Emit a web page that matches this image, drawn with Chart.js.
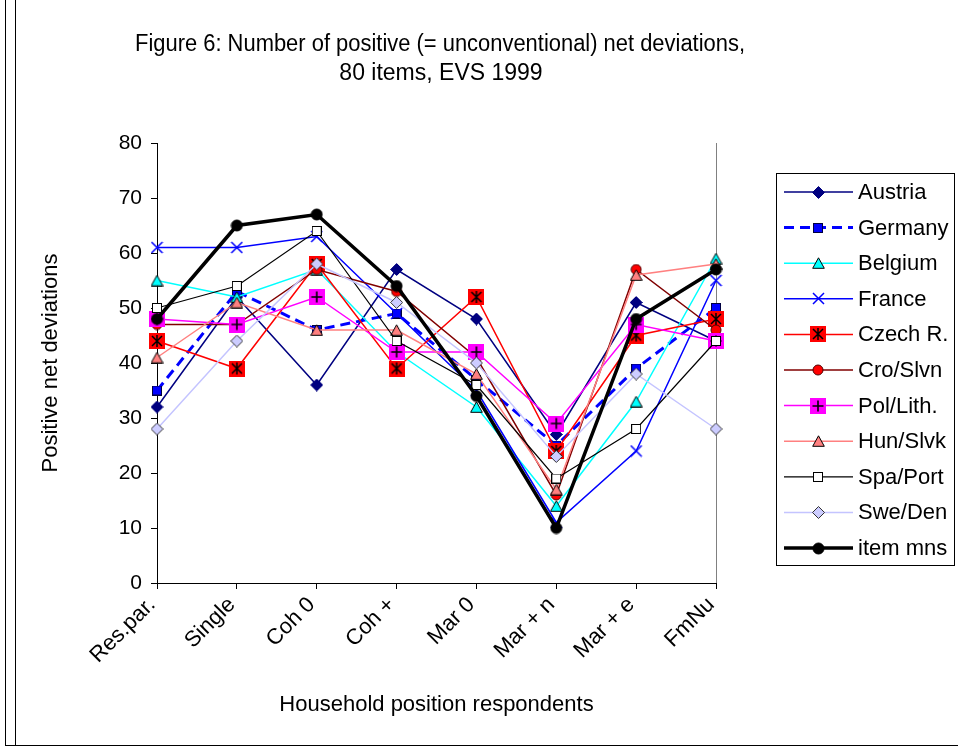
<!DOCTYPE html>
<html><head><meta charset="utf-8">
<script src="https://cdn.jsdelivr.net/npm/chart.js@4"></script>
<style>
html,body{margin:0;padding:0;background:#fff;}
#wrap{position:relative;width:958px;height:750px;overflow:hidden;background:#fff;}
canvas{position:absolute;left:0;top:0;}
.frame{position:absolute;background:#000;}
</style></head><body>
<div id="wrap">
<canvas id="c" width="958" height="750"></canvas>
<div class="frame" style="left:5px;top:0;width:1px;height:746px"></div>
<div class="frame" style="left:15px;top:0;width:1px;height:746px"></div>
<div class="frame" style="left:5px;top:745px;width:953px;height:1px"></div>
</div>
<script>
// ---- data ----
const chartTitle = ['Figure 6: Number of positive (= unconventional) net deviations,', '80 items, EVS 1999'];
const categories = ['Res.par.', 'Single', 'Coh 0', 'Coh +', 'Mar 0', 'Mar + n', 'Mar + e', 'FmNu'];
const yTickValues = [0, 10, 20, 30, 40, 50, 60, 70, 80];
const seriesNames = ['Austria', 'Germany', 'Belgium', 'France', 'Czech R.', 'Cro/Slvn', 'Pol/Lith.', 'Hun/Slvk', 'Spa/Port', 'Swe/Den', 'item mns'];
const austria  = [32, 52, 36, 57, 48, 27, 51, 44];
const germany  = [35, 53, 46, 49, 37, 25, 39, 50];
const belgium  = [55, 52, 57, 42, 32, 14, 33, 59];
const france   = [61, 61, 63, 49, 35, 11, 24, 55];
const czech    = [44, 39, 58, 39, 52, 24, 45, 48];
const croSlvn  = [47, 47, 57, 53, 41, 16, 57, 46];
const polLith  = [48, 47, 52, 42, 42, 29, 47, 44];
const hunSlvk  = [41, 51, 46, 46, 38, 17, 56, 58];
const spaPort  = [50, 54, 64, 44, 36, 19, 28, 44];
const sweDen   = [28, 44, 58, 51, 40, 23, 38, 28];
const itemMns  = [48, 65, 67, 54, 34, 10, 48, 57];

// ---- marker images ----
function mk(w, h, fn) {
  const c = document.createElement('canvas');
  c.width = w; c.height = h;
  const g = c.getContext('2d');
  fn(g);
  return c;
}
function diamond(fill, stroke) {
  return mk(13, 13, g => {
    g.beginPath(); g.moveTo(6.5, 0.5); g.lineTo(12.5, 6.5); g.lineTo(6.5, 12.5); g.lineTo(0.5, 6.5); g.closePath();
    g.fillStyle = fill; g.fill(); g.strokeStyle = stroke; g.lineWidth = 1; g.stroke();
  });
}
function square(fill, stroke) {
  return mk(10, 10, g => {
    g.fillStyle = fill; g.fillRect(0, 0, 10, 10);
    g.strokeStyle = stroke; g.lineWidth = 1; g.strokeRect(0.5, 0.5, 9, 9);
  });
}
function triangle(fill) {
  return mk(13, 12, g => {
    g.beginPath(); g.moveTo(6.5, 0.8); g.lineTo(12.3, 11.3); g.lineTo(0.7, 11.3); g.closePath();
    g.fillStyle = fill; g.fill(); g.strokeStyle = '#000'; g.lineWidth = 1; g.stroke();
  });
}
function circle(fill, stroke, r) {
  const s = Math.ceil(r * 2 + 2);
  return mk(s, s, g => {
    g.beginPath(); g.arc(s / 2, s / 2, r, 0, Math.PI * 2);
    g.fillStyle = fill; g.fill(); g.strokeStyle = stroke; g.lineWidth = 1; g.stroke();
  });
}
const mAustria = diamond('#000080', '#000080');
const mGermany = square('#0000FF', '#000040');
const mBelgium = triangle('#00FFFF');
const mFrance = mk(13, 13, g => {
  g.strokeStyle = '#0000FF'; g.lineWidth = 1.5;
  g.beginPath(); g.moveTo(1, 1); g.lineTo(12, 12); g.moveTo(12, 1); g.lineTo(1, 12); g.stroke();
});
const mCzech = mk(16, 16, g => {
  g.fillStyle = '#FF0000'; g.fillRect(0, 0, 16, 16);
  g.strokeStyle = '#000'; g.lineWidth = 1.5;
  g.beginPath(); g.moveTo(8, 2); g.lineTo(8, 14); g.moveTo(3, 3); g.lineTo(13, 13); g.moveTo(13, 3); g.lineTo(3, 13); g.stroke();
});
const mCro = circle('#FF0000', '#500000', 5);
const mPol = mk(16, 16, g => {
  g.fillStyle = '#FF00FF'; g.fillRect(0, 0, 16, 16);
  g.strokeStyle = '#000'; g.lineWidth = 1.6;
  g.beginPath(); g.moveTo(8, 2.5); g.lineTo(8, 13.5); g.moveTo(2.5, 8); g.lineTo(13.5, 8); g.stroke();
});
const mHun = triangle('#FF8080');
const mSpa = square('#FFFFFF', '#000000');
const mSwe = diamond('#CCCCFF', '#333333');
const mItem = circle('#000000', '#000000', 5.5);

const seriesValues = [austria, germany, belgium, france, czech, croSlvn, polLith, hunSlvk, spaPort, sweDen, itemMns];
const seriesStyle = [
  {color: '#000080', width: 1.5, dash: [], marker: mAustria},
  {color: '#0000FF', width: 3, dash: [10, 6], marker: mGermany},
  {color: '#00FFFF', width: 1.5, dash: [], marker: mBelgium},
  {color: '#0000FF', width: 1.5, dash: [], marker: mFrance},
  {color: '#FF0000', width: 1.5, dash: [], marker: mCzech},
  {color: '#800000', width: 1.5, dash: [], marker: mCro},
  {color: '#FF00FF', width: 1.5, dash: [], marker: mPol},
  {color: '#FF8080', width: 1.5, dash: [], marker: mHun},
  {color: '#000000', width: 1.2, dash: [], marker: mSpa},
  {color: '#C4C4FF', width: 1.5, dash: [], marker: mSwe},
  {color: '#000000', width: 3.5, dash: [], marker: mItem}
];

const datasets = seriesNames.map((name, i) => ({
  label: name,
  data: seriesValues[i],
  borderColor: seriesStyle[i].color,
  backgroundColor: seriesStyle[i].color,
  borderWidth: seriesStyle[i].width,
  borderDash: seriesStyle[i].dash,
  pointStyle: seriesStyle[i].marker,
  pointRadius: 6,
  pointHoverRadius: 6,
  tension: 0,
  fill: false,
  clip: false,
  order: -i
}));

const FONT = "'Liberation Sans', Arial, sans-serif";

const extras = {
  id: 'extras',
  beforeDatasetsDraw(chart) {
    const {ctx, chartArea: a} = chart;
    ctx.save();
    ctx.strokeStyle = '#808080'; ctx.lineWidth = 1;
    const x = Math.round(a.right) + 0.5;
    ctx.beginPath(); ctx.moveTo(x, a.top); ctx.lineTo(x, a.bottom); ctx.stroke();
    ctx.restore();
  },
  afterDraw(chart) {
    const ctx = chart.ctx;
    ctx.save();
    // title
    ctx.fillStyle = '#000';
    ctx.font = '23px ' + FONT;
    ctx.textAlign = 'center'; ctx.textBaseline = 'middle';
    ctx.fillText(chartTitle[0], 440, 45, 610);
    ctx.fillText(chartTitle[1], 441, 74);
    // legend
    ctx.strokeStyle = '#000'; ctx.lineWidth = 1; ctx.setLineDash([]);
    ctx.strokeRect(776.5, 173.5, 178, 392);
    ctx.font = '22px ' + FONT;
    ctx.textBaseline = 'middle'; ctx.textAlign = 'left';
    chart.data.datasets.forEach((ds, i) => {
      const y = 192 + i * 35.6;
      ctx.save();
      ctx.strokeStyle = ds.borderColor; ctx.lineWidth = ds.borderWidth;
      ctx.setLineDash(ds.borderDash || []);
      ctx.beginPath(); ctx.moveTo(784, y); ctx.lineTo(853, y); ctx.stroke();
      ctx.restore();
      const m = ds.pointStyle;
      ctx.drawImage(m, Math.round(818 - m.width / 2), Math.round(y - m.height / 2));
      ctx.fillText(ds.label, 858, y + 1);
    });
    ctx.restore();
  }
};

new Chart(document.getElementById('c'), {
  type: 'line',
  data: {labels: categories, datasets: datasets},
  options: {
    responsive: false,
    animation: false,
    devicePixelRatio: 1,
    layout: {padding: {left: 20, right: 242, top: 143, bottom: 0}},
    plugins: {
      legend: {display: false},
      tooltip: {enabled: false},
      title: {display: false}
    },
    scales: {
      x: {
        type: 'category',
        offset: false,
        grid: {drawOnChartArea: false, drawTicks: true, tickLength: 6, color: '#000'},
        border: {display: true, color: '#000', width: 1},
        ticks: {autoSkip: false, minRotation: 45, maxRotation: 45, color: '#000', padding: 3, labelOffset: -5,
                font: {family: FONT, size: 22}},
        title: {display: true, text: 'Household position respondents', color: '#000',
                font: {family: FONT, size: 22}, padding: {top: 0, bottom: 32}},
        afterFit: s => { s.height = 167; }
      },
      y: {
        min: 0, max: 80,
        afterBuildTicks: s => { s.ticks = yTickValues.map(v => ({value: v})); },
        grid: {drawOnChartArea: false, drawTicks: true, tickLength: 6, color: '#000'},
        border: {display: true, color: '#000', width: 1},
        ticks: {color: '#000', padding: 9, font: {family: FONT, size: 21}},
        title: {display: true, text: 'Positive net deviations', color: '#000',
                font: {family: FONT, size: 22}, padding: {top: 18, bottom: 0}},
        afterFit: s => { s.width = 137; }
      }
    }
  },
  plugins: [extras]
});
</script>
</body></html>
